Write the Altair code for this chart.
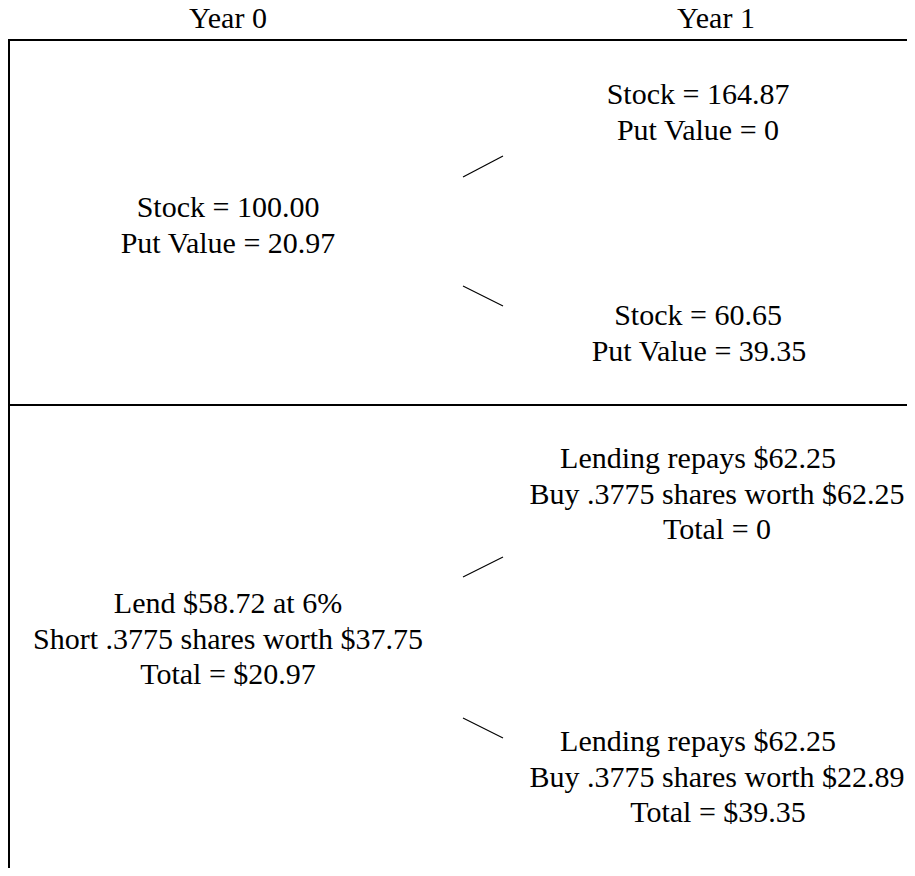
import altair as alt
import pandas as pd

# ---- content ----
headers = ["Year 0", "Year 1"]

top_root = ["Stock = 100.00", "Put Value = 20.97"]
top_up = ["Stock = 164.87", "Put Value = 0"]
top_down = ["Stock = 60.65", "Put Value = 39.35"]

bot_root = ["Lend $58.72 at 6%", "Short .3775 shares worth $37.75", "Total = $20.97"]
bot_up = ["Lending repays $62.25", "Buy .3775 shares worth $62.25", "Total = 0"]
bot_down = ["Lending repays $62.25", "Buy .3775 shares worth $22.89", "Total = $39.35"]

# ---- layout (page pixel coordinates) ----
W, H = 899, 860
OX, OY = 8, 8
LINE_GAP = 35.5
FONT = "Liberation Serif"

header_x = [228, 716]
header_base = 28

# (lines, x centre per line, baseline of first line)
blocks = [
    (top_root, [228, 228], 217),
    (top_up, [698, 698], 104),
    (top_down, [698, 699], 325),
    (bot_root, [228, 228, 228], 613),
    (bot_up, [698, 717, 717], 468),
    (bot_down, [698, 717, 718], 751),
]

rows = []
for i, h in enumerate(headers):
    rows.append({"x": header_x[i], "y": header_base, "t": h})
for lines, xs_, base in blocks:
    for j, t in enumerate(lines):
        rows.append({"x": xs_[j], "y": base + j * LINE_GAP, "t": t})
text_df = pd.DataFrame(rows)

frame_df = pd.DataFrame([
    {"x": 9, "x2": 920, "y": 40, "y2": 40},
    {"x": 9, "x2": 920, "y": 405, "y2": 405},
    {"x": 9, "x2": 9, "y": 39, "y2": 880},
])

branch_df = pd.DataFrame([
    {"x": 463, "x2": 503, "y": 177, "y2": 156},
    {"x": 463, "x2": 503, "y": 286, "y2": 306},
    {"x": 463, "x2": 503, "y": 577, "y2": 557},
    {"x": 463, "x2": 503, "y": 718, "y2": 738},
])

xs = alt.Scale(domain=[OX, OX + W], nice=False, zero=False)
ys = alt.Scale(domain=[OY + H, OY], nice=False, zero=False)

X = lambda f: alt.X(f, type="quantitative", scale=xs, axis=None)
Y = lambda f: alt.Y(f, type="quantitative", scale=ys, axis=None)

frame = alt.Chart(frame_df).mark_rule(color="black", strokeWidth=2).encode(
    x=X("x"), x2="x2", y=Y("y"), y2="y2"
)
branches = alt.Chart(branch_df).mark_rule(color="black", strokeWidth=1.2).encode(
    x=X("x"), x2="x2", y=Y("y"), y2="y2"
)
texts = alt.Chart(text_df).mark_text(
    font=FONT, fontSize=30, color="black", align="center", baseline="alphabetic"
).encode(x=X("x"), y=Y("y"), text="t:N")

chart = alt.layer(frame, branches, texts).properties(
    width=W, height=H, padding=0, autosize=alt.AutoSizeParams(type="none")
).configure_view(stroke=None)

chart.save("out.html", embed_options={"renderer": "svg", "actions": False})
